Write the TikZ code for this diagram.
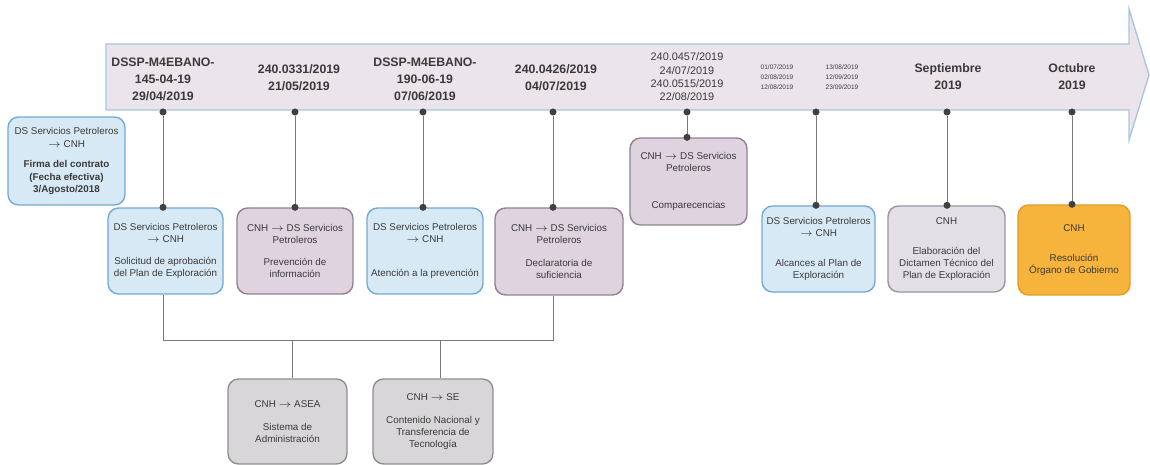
\documentclass[tikz,border=0pt]{standalone}
\usepackage{fontspec}
\setmainfont{Liberation Sans}
\definecolor{arrowfill}{HTML}{EBE5EB}
\definecolor{arrowline}{HTML}{A9C6E0}
\definecolor{bluefill}{HTML}{D7E9F4}
\definecolor{blueline}{HTML}{74A9D2}
\definecolor{purpfill}{HTML}{DED3DE}
\definecolor{purpline}{HTML}{8E8291}
\definecolor{lavfill}{HTML}{E3DFE7}
\definecolor{lavline}{HTML}{9A94A1}
\definecolor{orfill}{HTML}{F6B43C}
\definecolor{orline}{HTML}{E29C25}
\definecolor{greyfill}{HTML}{D8D6D8}
\definecolor{greyline}{HTML}{8F8F8F}
\definecolor{txt}{HTML}{3A3A3A}
\definecolor{conn}{HTML}{7A7A7A}
\begin{document}
\begin{tikzpicture}[x=0.02cm,y=-0.02cm,
  evbox/.style={rounded corners=6pt, line width=0.8pt, align=center, inner sep=1pt,
    text=txt, font=\fontsize{5.6}{6.9}\selectfont},
  bluebox/.style={evbox, fill=bluefill, draw=blueline},
  purpbox/.style={evbox, fill=purpfill, draw=purpline},
  lavbox/.style={evbox, fill=lavfill, draw=lavline},
  orbox/.style={evbox, fill=orfill, draw=orline},
  greybox/.style={evbox, fill=greyfill, draw=greyline},
  datelbl/.style={align=center, inner sep=0pt, text=txt, font=\fontsize{7}{9.6}\selectfont\bfseries},
  datesmall/.style={align=center, inner sep=0pt, text=txt, font=\fontsize{6.2}{7.6}\selectfont},
  datetiny/.style={align=center, inner sep=0pt, text=txt, font=\fontsize{3.7}{5.7}\selectfont},
  link/.style={draw=conn, line width=0.5pt},
  pin/.style={circle, fill=black!75, inner sep=0pt, minimum size=4pt}
]
\useasboundingbox (0,0) rectangle (1150,465);
\fill[white] (0,0) rectangle (1150,465);
% timeline arrow
\draw[fill=arrowfill, draw=arrowline, line width=0.8pt]
  (106,44) -- (1129,44) -- (1129,9) -- (1149,75) -- (1129,140) -- (1129,110) -- (106,110) -- cycle;
% date labels
\node[datelbl] (t1) at (163,79) {DSSP-M4EBANO-\\145-04-19\\29/04/2019};
\node[datelbl] (t2) at (299,78) {240.0331/2019\\21/05/2019};
\node[datelbl] (t3) at (425,79) {DSSP-M4EBANO-\\190-06-19\\07/06/2019};
\node[datelbl] (t4) at (556,78) {240.0426/2019\\04/07/2019};
\node[datesmall] (t5) at (687,77) {240.0457/2019\\24/07/2019\\240.0515/2019\\22/08/2019};
\node[datetiny] (t6) at (777,77) {01/07/2019\\02/08/2019\\12/08/2019};
\node[datetiny] (t7) at (842,77) {13/08/2019\\12/09/2019\\23/09/2019};
\node[datelbl] (t8) at (948,77) {Septiembre\\2019};
\node[datelbl] (t9) at (1072,77) {Octubre\\2019};
% pins on the arrow
\foreach \n/\x in {d1/163,d2/295,d3/423,d4/553,d5/687,d6/816,d7/947,d8/1072}
  \node[pin] (\n) at (\x,112) {};
% boxes
\node[bluebox, minimum width=2.34cm, minimum height=1.76cm] (b0) at (66.5,161)
  {DS Servicios Petroleros\\$\rightarrow$ CNH\\[5pt]\textbf{Firma del contrato}\\\textbf{(Fecha efectiva)}\\\textbf{3/Agosto/2018}};
\node[bluebox, minimum width=2.3cm, minimum height=1.72cm] (b1) at (165.5,251)
  {DS Servicios Petroleros\\$\rightarrow$ CNH\\[6pt]Solicitud de aprobación\\del Plan de Exploración};
\node[purpbox, minimum width=2.32cm, minimum height=1.72cm] (b2) at (295,251)
  {CNH $\rightarrow$ DS Servicios\\Petroleros\\[6pt]Prevención de\\información};
\node[bluebox, minimum width=2.32cm, minimum height=1.72cm] (b3) at (425,251)
  {DS Servicios Petroleros\\$\rightarrow$ CNH\\[12pt]Atención a la prevención};
\node[purpbox, minimum width=2.56cm, minimum height=1.74cm] (b4) at (559,251.5)
  {CNH $\rightarrow$ DS Servicios\\Petroleros\\[6pt]Declaratoria de\\suficiencia};
\node[purpbox, minimum width=2.34cm, minimum height=1.74cm] (b5) at (688.5,181.5)
  {CNH $\rightarrow$ DS Servicios\\Petroleros\\[14pt]Comparecencias};
\node[bluebox, minimum width=2.26cm, minimum height=1.72cm] (b6) at (818.5,249)
  {DS Servicios Petroleros\\$\rightarrow$ CNH\\[10pt]Alcances al Plan de\\Exploración};
\node[lavbox, minimum width=2.34cm, minimum height=1.72cm] (b7) at (946.5,249)
  {CNH\\[10pt]Elaboración del\\Dictamen Técnico del\\Plan de Exploración};
\node[orbox, minimum width=2.24cm, minimum height=1.8cm] (b8) at (1074,250)
  {CNH\\[10pt]Resolución\\Órgano de Gobierno};
\node[greybox, minimum width=2.38cm, minimum height=1.7cm] (b9) at (287.5,421.5)
  {CNH $\rightarrow$ ASEA\\[6pt]Sistema de\\Administración};
\node[greybox, minimum width=2.4cm, minimum height=1.7cm] (b10) at (433,421.5)
  {CNH $\rightarrow$ SE\\[6pt]Contenido Nacional y\\Transferencia de\\Tecnología};
% connectors from the timeline to the boxes
\foreach \d/\b in {d1/b1,d2/b2,d3/b3,d4/b4,d5/b5,d6/b6,d7/b7,d8/b8}{
  \draw[link] (\d) -- (\d |- \b.north);
  \fill[black!75] (\d |- \b.north) circle (2pt);
}
% bracket below
\coordinate (j0) at (163,340);
\coordinate (j1) at (292,340);
\coordinate (j2) at (440,340);
\coordinate (j3) at (553,340);
\draw[link] (d1 |- b1.south) -- (j0) -- (j3) -- (d4 |- b4.south);
\draw[link] (j1) -- (j1 |- b9.north);
\draw[link] (j2) -- (j2 |- b10.north);
\end{tikzpicture}
\end{document}
